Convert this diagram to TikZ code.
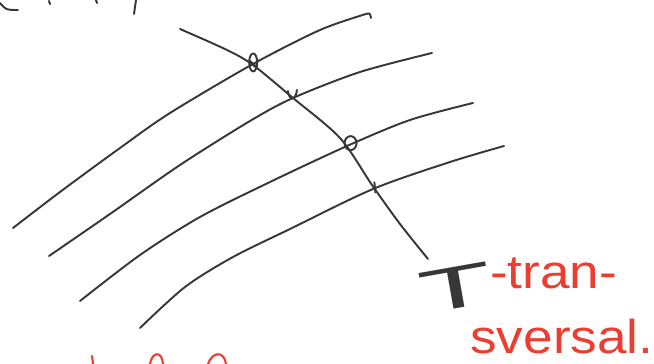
\documentclass[tikz,border=0pt]{standalone}
\usepackage{fontspec}
\setmainfont{Liberation Sans}
\usepackage{xcolor}
\usetikzlibrary{intersections}
\definecolor{pen}{RGB}{55,55,58}
\definecolor{redpen}{RGB}{236,62,48}
\tikzset{
  stroke/.style={pen, line width=1.1pt, line cap=round, line join=round},
  redstroke/.style={redpen, line width=1.2pt, line cap=round},
  redlabel/.style={redpen, font=\fontsize{27}{37}\selectfont, inner sep=0pt, align=left}
}

\begin{document}
\begin{tikzpicture}[x=0.02cm, y=-0.02cm]
  \useasboundingbox (0,0) rectangle (654,364);
  \draw[stroke, name path=l1] plot[smooth, tension=0.5] coordinates {(13,228) (60,192) (120,148) (170,113) (253,64) (320,30) (366,14)};
  \draw[stroke] (366,14) .. controls (370,13) .. (371,18);
  \draw[stroke, name path=l2] plot[smooth, tension=0.5] coordinates {(49,256) (110,214) (180,165) (250,121) (293,98) (360,72) (432,53)};
  \draw[stroke, name path=l3] plot[smooth, tension=0.5] coordinates {(80,301) (140,255) (200,217) (270,182) (347,146) (410,120) (473,103)};
  \draw[stroke, name path=l4] plot[smooth, tension=0.5] coordinates {(140,328) (185,287) (233,257) (290,229) (373,189) (450,162) (504,146)};
  \draw[stroke, name path=tr] plot[smooth, tension=0.5] coordinates {(180,29) (227,50) (253,65) (293,98) (340,138) (372,185) (400,224) (428,259)};
  \path[name intersections={of=tr and l1, by=p1}];
  \path[name intersections={of=tr and l2, by=p2}];
  \path[name intersections={of=tr and l3, by=p3}];
  \path[name intersections={of=tr and l4, by=p4}];
  \draw[stroke] ([shift={(1,-2)}]p1) ellipse [x radius=4, y radius=9];
  \draw[stroke] ([shift={(-3,-4)}]p1) -- ([shift={(4,2)}]p1);
  \draw[stroke] ([shift={(-5,-7)}]p2) .. controls ([shift={(-4,3)}]p2) and ([shift={(3,3)}]p2) .. ([shift={(4,-8)}]p2);
  \draw[stroke] ([shift={(4,-3)}]p3) ellipse [x radius=6, y radius=7];
  \draw[stroke] ([shift={(0,-6)}]p4) -- ([shift={(1,4)}]p4);
  \draw[stroke] (0,3) .. controls (6,10) .. (18,10);
  \draw[stroke] (49,1) -- (50,4);
  \draw[stroke] (96,0) -- (97,3);
  \draw[stroke] (136,0) -- (134,14);
  \draw[redstroke] (92,356) -- (93,364);
  \draw[redstroke] (150,364) .. controls (152,352) and (162,350) .. (163,364);
  \draw[redstroke] (208,364) .. controls (212,352) and (224,350) .. (226,364);
  \node[pen, font=\fontsize{40}{40}\selectfont, inner sep=0pt, rotate=10, xscale=1.7, yscale=0.85] (tlabel) at (456,288) {T};
  \node[redlabel, anchor=south west, xscale=1.12] (transversal) at (470,354) {\hspace*{10pt}-tran-\\sversal.};
\end{tikzpicture}
\end{document}
